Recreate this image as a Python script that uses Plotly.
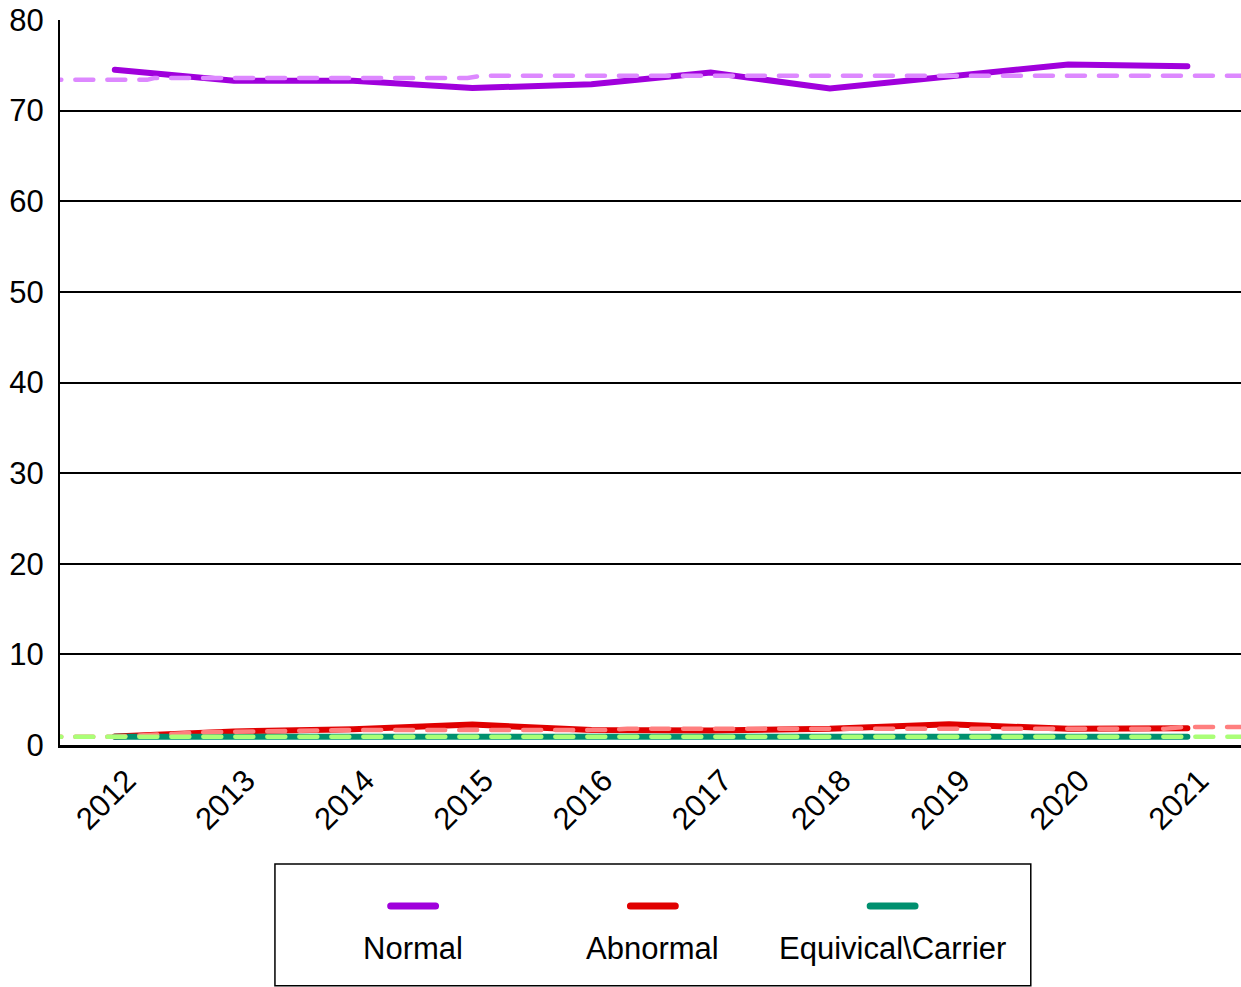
import plotly.graph_objects as go

years = ["2012", "2013", "2014", "2015", "2016", "2017", "2018", "2019", "2020", "2021"]
normal = [74.5, 73.3, 73.3, 72.5, 72.9, 74.2, 72.45, 73.7, 75.1, 74.9]
abnormal = [0.95, 1.5, 1.75, 2.25, 1.65, 1.6, 1.8, 2.3, 1.78, 1.85]
equivocal = [0.92, 0.92, 0.92, 0.92, 0.92, 0.92, 0.92, 0.92, 0.92, 0.92]

# reference (dashed) lines: positions in year-index units and levels
normal_ref_x = [-0.6, 0.27, 0.33, 2.96, 3.08, 9.6]
normal_ref_y = [73.4, 73.4, 73.6, 73.6, 73.85, 73.85]
abnormal_ref_x = [-0.6, 0.0, 0.75, 1.9, 4.13, 4.3, 8.8, 8.97, 9.6]
abnormal_ref_y = [0.92, 0.92, 1.4, 1.65, 1.65, 1.78, 1.78, 2.0, 2.0]
equivocal_ref_x = [-0.6, 9.6]
equivocal_ref_y = [0.92, 0.92]

legend_names = ["Normal", "Abnormal", "Equivical\\Carrier"]

c_normal, c_normal_ref = "#A000DC", "#DD88FF"
c_abn, c_abn_ref = "#E00000", "#FF7F7F"
c_eq, c_eq_ref = "#00906F", "#AAFF77"

xi = list(range(len(years)))
fig = go.Figure()
for y, c in [(normal, c_normal), (abnormal, c_abn), (equivocal, c_eq)]:
    fig.add_trace(go.Scatter(x=xi, y=y, mode="lines", line=dict(color=c, width=6),
                             showlegend=False, hoverinfo="skip"))
for x, y, c in [(normal_ref_x, normal_ref_y, c_normal_ref),
                (abnormal_ref_x, abnormal_ref_y, c_abn_ref),
                (equivocal_ref_x, equivocal_ref_y, c_eq_ref)]:
    fig.add_trace(go.Scatter(x=x, y=y, mode="lines",
                             line=dict(color=c, width=4.5, dash="18px,14px"),
                             showlegend=False, hoverinfo="skip"))

font = dict(family="Liberation Sans, Arial, sans-serif", size=31, color="black")

# manual legend (paper coordinates)
fig.add_shape(type="rect", xref="paper", yref="paper", x0=0.182, x1=0.822, y0=-0.332, y1=-0.164,
              line=dict(color="black", width=1.5), fillcolor="white")
legend_cx = [0.299, 0.502, 0.705]
for name, c, cx in zip(legend_names, [c_normal, c_abn, c_eq], legend_cx):
    fig.add_shape(type="line", xref="paper", yref="paper", x0=cx - 0.019, x1=cx + 0.019,
                  y0=-0.222, y1=-0.222, line=dict(color=c, width=7))
    fig.add_annotation(xref="paper", yref="paper", x=cx, y=-0.281, text=name, showarrow=False,
                       font=font, xanchor="center", yanchor="middle")

fig.update_layout(
    width=1241, height=987,
    margin=dict(l=60, r=0, t=20, b=242),
    plot_bgcolor="white", paper_bgcolor="white",
    font=font,
    showlegend=False,
)
fig.update_xaxes(range=[-0.46, 9.45], tickmode="array", tickvals=xi, ticktext=years,
                 tickangle=-45, showgrid=False, zeroline=False, showline=True,
                 linecolor="black", linewidth=3, ticks="", tickfont=font,
                 ticklabelshift=12, ticklabelstandoff=2)
fig.update_yaxes(range=[0, 80], tickvals=[0, 10, 20, 30, 40, 50, 60, 70, 80],
                 showgrid=True, gridcolor="black", gridwidth=1.5, zeroline=False,
                 showline=True, linecolor="black", linewidth=2, ticks="",
                 ticklabelstandoff=8, tickfont=font)

post = """
document.body.style.margin = '0';
document.body.style.overflow = 'hidden';
var els = document.querySelectorAll('.scatterlayer .js-line');
els.forEach(function(e){ e.style.strokeLinecap = 'round'; });
var sh = document.querySelectorAll('.shapelayer path');
sh.forEach(function(e){ e.style.strokeLinecap = 'round'; });
"""
fig.write_html("out.html", post_script=post, config={"displayModeBar": False})
